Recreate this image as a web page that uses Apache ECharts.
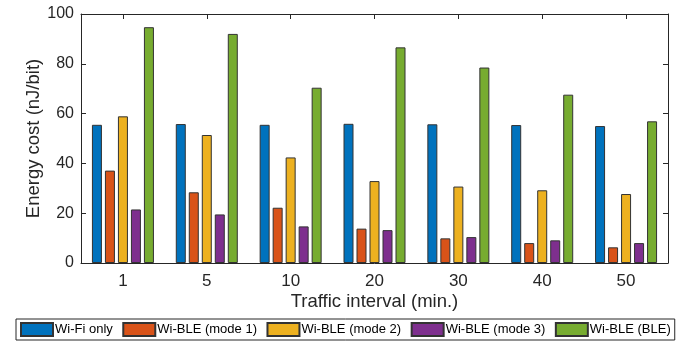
<!DOCTYPE html>
<html>
<head>
<meta charset="utf-8">
<script src="https://cdn.jsdelivr.net/npm/echarts@6/dist/echarts.min.js"></script>
<style>html,body{margin:0;padding:0;background:#fff}#c{width:686px;height:342px}</style>
</head>
<body>
<div id="c"></div>
<script>
var categories = ['1', '5', '10', '20', '30', '40', '50'];
var seriesNames = ['Wi-Fi only', 'Wi-BLE (mode 1)', 'Wi-BLE (mode 2)', 'Wi-BLE (mode 3)', 'Wi-BLE (BLE)'];
var wifiOnly = [55.5, 55.8, 55.5, 55.9, 55.7, 55.4, 55.0];
var mode1 = [37.1, 28.4, 22.2, 13.8, 9.9, 8.0, 6.3];
var mode2 = [58.9, 51.4, 42.4, 32.9, 30.7, 29.2, 27.7];
var mode3 = [21.5, 19.5, 14.7, 13.2, 10.4, 9.1, 8.0];
var bleOnly = [94.7, 92.0, 70.4, 86.6, 78.5, 67.6, 56.9];
var colors = ['#0072BD', '#D95319', '#EDB120', '#7E2F8E', '#77AC30'];
var yTicks = [0, 20, 40, 60, 80, 100];

var allData = [wifiOnly, mode1, mode2, mode3, bleOnly];
var font = 'Liberation Sans, Arial, sans-serif';
var txt = '#262626';

var chart = echarts.init(document.getElementById('c'), null, {renderer: 'canvas'});
chart.setOption({
  animation: false,
  color: colors,
  grid: {left: 81, right: 18, top: 14, bottom: 79},
  legend: {
    data: seriesNames,
    left: 16, top: 319,
    itemWidth: 32, itemHeight: 13, itemGap: 9.5,
    padding: [3, 4, 3, 4],
    borderColor: '#262626', borderWidth: 1,
    textStyle: {fontFamily: font, fontSize: 13, color: '#000', padding: [0, 0, 0, -3]},
    icon: 'rect'
  },
  xAxis: [{
    type: 'category', data: categories, position: 'bottom',
    axisLine: {show: true, onZero: false, lineStyle: {color: txt, width: 1}},
    axisTick: {show: false},
    axisLabel: {fontFamily: font, fontSize: 17, color: txt, margin: 10},
    name: 'Traffic interval (min.)', nameLocation: 'middle', nameGap: 29,
    nameMoveOverlap: false,
    nameTextStyle: {fontFamily: font, fontSize: 18.5, color: txt}
  }, {
    type: 'category', data: categories, position: 'top',
    axisLine: {show: true, onZero: false, lineStyle: {color: txt, width: 1}},
    axisTick: {show: true, inside: true, alignWithLabel: true, length: 5, lineStyle: {color: txt}},
    axisLabel: {show: false}
  }],
  yAxis: [{
    type: 'value', min: 0, max: 100, interval: 20, position: 'left',
    axisLine: {show: true, onZero: false, lineStyle: {color: txt, width: 1}},
    axisTick: {show: true, inside: true, length: 5, lineStyle: {color: txt}},
    splitLine: {show: false},
    axisLabel: {fontFamily: font, fontSize: 16, color: txt, margin: 7,
      formatter: function (v) { return yTicks.indexOf(v) >= 0 ? String(v) : ''; }},
    name: 'Energy cost (nJ/bit)', nameLocation: 'middle', nameGap: 38,
    nameMoveOverlap: false,
    nameTextStyle: {fontFamily: font, fontSize: 18.5, color: txt}
  }, {
    type: 'value', min: 0, max: 100, interval: 20, position: 'right',
    axisLine: {show: true, onZero: false, lineStyle: {color: txt, width: 1}},
    axisTick: {show: true, inside: true, length: 5, lineStyle: {color: txt}},
    splitLine: {show: false},
    axisLabel: {show: false}
  }],
  series: seriesNames.map(function (n, i) {
    return {
      name: n, type: 'bar', data: allData[i],
      xAxisIndex: 0, yAxisIndex: 0,
      barWidth: 10, barGap: '30%',
      itemStyle: {color: colors[i], borderColor: '#333', borderWidth: 1}
    };
  })
});
</script>
</body>
</html>
